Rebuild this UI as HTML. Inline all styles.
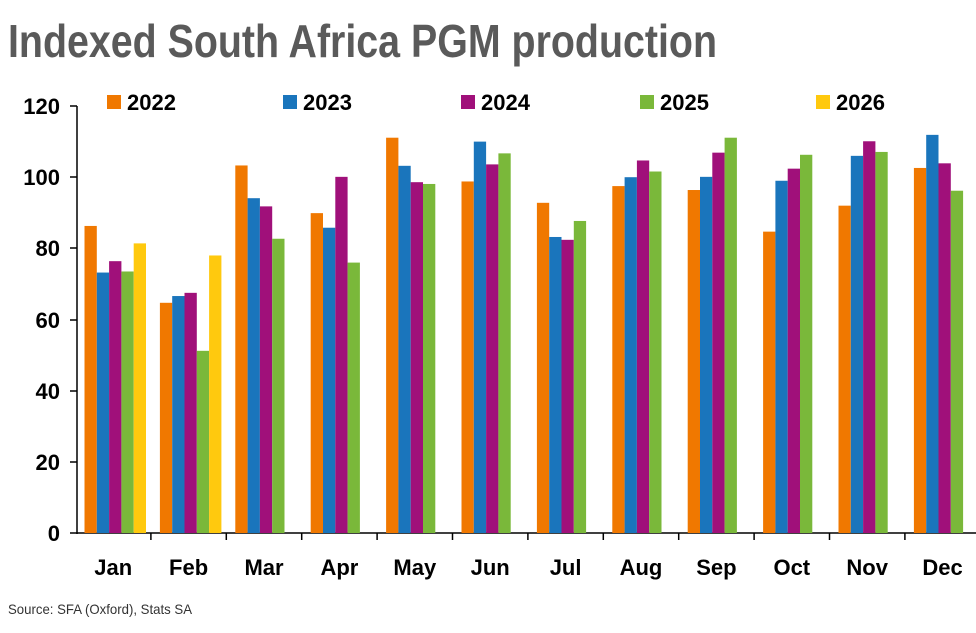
<!DOCTYPE html>
<html><head><meta charset="utf-8"><style>
body{margin:0;background:#fff}
svg text{font-family:"Liberation Sans Narrow","Liberation Sans",sans-serif}
</style></head><body>
<svg width="976" height="628" xmlns="http://www.w3.org/2000/svg">
<text x="8" y="57" font-size="46" font-weight="bold" fill="#5a5a5a" textLength="709" lengthAdjust="spacingAndGlyphs">Indexed South Africa PGM production</text>
<g font-size="22" font-weight="bold" fill="#000" text-anchor="end">
<text x="60" y="541">0</text><text x="60" y="470">20</text><text x="60" y="399">40</text><text x="60" y="328">60</text><text x="60" y="256">80</text><text x="60" y="185">100</text><text x="60" y="114">120</text>
</g>
<g stroke="#000" stroke-width="1.5">
<line x1="77" y1="106" x2="77" y2="534"/>
<line x1="70" y1="533" x2="77" y2="533"/><line x1="70" y1="462" x2="77" y2="462"/><line x1="70" y1="391" x2="77" y2="391"/><line x1="70" y1="320" x2="77" y2="320"/><line x1="70" y1="248" x2="77" y2="248"/><line x1="70" y1="177" x2="77" y2="177"/><line x1="70" y1="106" x2="77" y2="106"/>
<line x1="77" y1="533" x2="976" y2="533"/>
</g>
<g id="bars"></g>
<g font-size="22" font-weight="bold" fill="#000" text-anchor="middle" id="months"></g>
<g font-size="22" font-weight="bold" fill="#000">
<rect x="107" y="95" width="14" height="14" fill="#f07800"/><text x="127" y="110">2022</text>
<rect x="283" y="95" width="14" height="14" fill="#1a75bc"/><text x="303" y="110">2023</text>
<rect x="461" y="95" width="14" height="14" fill="#a0107a"/><text x="481" y="110">2024</text>
<rect x="640" y="95" width="14" height="14" fill="#7ab83a"/><text x="660" y="110">2025</text>
<rect x="816" y="95" width="14" height="14" fill="#ffc90e"/><text x="836" y="110">2026</text>
</g>
<text x="8" y="614" font-size="14" fill="#333" textLength="184" lengthAdjust="spacingAndGlyphs">Source: SFA (Oxford), Stats SA</text>
</svg>
<script>
var d=[[86.3,73.2,76.4,73.5,81.4],[64.7,66.6,67.5,51.2,78.0],[103.3,94.1,91.8,82.7],[89.9,85.8,100.1,76.0],[111.1,103.2,98.6,98.1],[98.8,110.0,103.6,106.7],[92.8,83.2,82.4,87.7],[97.5,100.0,104.7,101.6],[96.4,100.1,106.9,111.1],[84.7,99.0,102.4,106.3],[92.0,106.0,110.1,107.1],[102.6,111.9,103.9,96.2]];
var c=["#f07800","#1a75bc","#a0107a","#7ab83a","#ffc90e"];
var m=["Jan","Feb","Mar","Apr","May","Jun","Jul","Aug","Sep","Oct","Nov","Dec"];
var ns="http://www.w3.org/2000/svg",g=document.getElementById("bars"),t=document.getElementById("months");
var cw=75.4,x0=75.5,bw=12.3,s=3.558;
d.forEach(function(r,i){var cx=x0+i*cw;
r.forEach(function(v,j){var e=document.createElementNS(ns,"rect");e.setAttribute("x",cx+9+j*bw);e.setAttribute("width",bw);e.setAttribute("y",533-v*s);e.setAttribute("height",v*s);e.setAttribute("fill",c[j]);g.appendChild(e);});
var tk=document.createElementNS(ns,"line");tk.setAttribute("x1",cx+cw);tk.setAttribute("x2",cx+cw);tk.setAttribute("y1",533);tk.setAttribute("y2",540);tk.setAttribute("stroke","#000");tk.setAttribute("stroke-width","1.5");g.appendChild(tk);
var tx=document.createElementNS(ns,"text");tx.setAttribute("x",cx+cw/2);tx.setAttribute("y",575);tx.textContent=m[i];t.appendChild(tx);});
</script>
</body></html>
